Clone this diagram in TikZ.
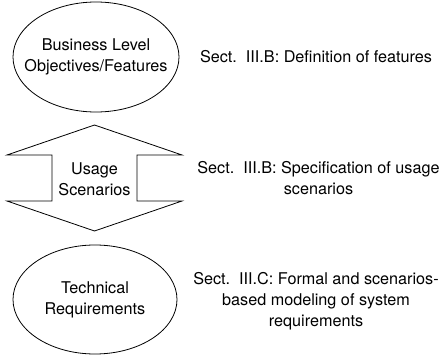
\documentclass[tikz,border=0pt]{standalone}
\usepackage{fontspec}
\setmainfont{TeX Gyre Heros}
\begin{document}
\begin{tikzpicture}[x=1pt,y=1pt,
  lbl/.style={font=\fontsize{16.2}{21}\selectfont, align=center, inner sep=0pt},
  shp/.style={draw, line width=0.8pt, line join=miter}]
\useasboundingbox (0,0) rectangle (440,360);
% top ellipse
\node[lbl] (biz) at (96,303) {Business Level\\Objectives/Features};
\draw[shp] (biz.center) ellipse [x radius=83, y radius=55];
% double arrow
\coordinate (top) at (94.5,235);
\coordinate (bot) at (94.5,129);
\draw[shp] (top) -- (182,205) -- (137,205) -- (137,159) -- (182,159) -- (bot)
  -- (7,159) -- (52,159) -- (52,205) -- (7,205) -- cycle;
\node[lbl] (usage) at (94.5,181) {Usage\\Scenarios};
% bottom ellipse
\node[lbl] (tech) at (95,60.5) {Technical\\Requirements};
\draw[shp] (tech.center) ellipse [x radius=82, y radius=54.5];
% right labels
\node[lbl] (s1) at (316,303) {Sect.~~III.B: Definition of features};
\node[lbl] (s2) at (318.5,181.5) {Sect.~~III.B: Specification of usage\\scenarios};
\node[lbl] (s3) at (316,59) {Sect.~~III.C: Formal and scenarios-\\based modeling of system\\requirements};
\end{tikzpicture}
\end{document}
